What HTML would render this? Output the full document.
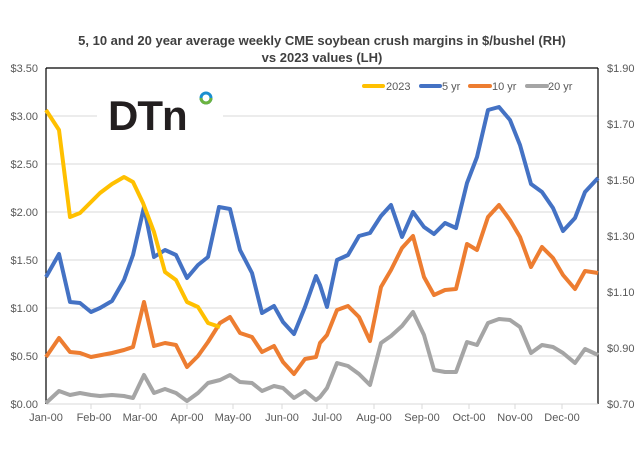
<!DOCTYPE html>
<html><head><meta charset="utf-8"><style>
body{margin:0;background:#fff;}
svg{display:block;font-family:"Liberation Sans",Arial,sans-serif;}
</style></head><body>
<svg width="640" height="460" viewBox="0 0 640 460">
<rect width="640" height="460" fill="#fff"/>
<text x="322" y="45" font-size="13" font-weight="bold" fill="#404040" text-anchor="middle">5, 10 and 20 year average weekly CME soybean crush margins in $/bushel (RH)</text>
<text x="322" y="62" font-size="13" font-weight="bold" fill="#404040" text-anchor="middle">vs 2023 values (LH)</text>
<g stroke="#d9d9d9" stroke-width="1">
<line x1="46" x2="598" y1="116" y2="116"/><line x1="46" x2="598" y1="164" y2="164"/>
<line x1="46" x2="598" y1="212" y2="212"/><line x1="46" x2="598" y1="260" y2="260"/>
<line x1="46" x2="598" y1="308" y2="308"/><line x1="46" x2="598" y1="356" y2="356"/>
</g>
<g stroke="#000" stroke-width="1.2" fill="none">
<line x1="46" y1="68" x2="598" y2="68"/><line x1="46" y1="68" x2="46" y2="404"/><line x1="598" y1="68" x2="598" y2="404"/>
</g>
<line x1="46" y1="404" x2="598" y2="404" stroke="#d9d9d9"/>
<g stroke="#d9d9d9"><line x1="91" x2="91" y1="404" y2="409"/><line x1="140" x2="140" y1="404" y2="409"/><line x1="187" x2="187" y1="404" y2="409"/><line x1="233" x2="233" y1="404" y2="409"/><line x1="282" x2="282" y1="404" y2="409"/><line x1="327" x2="327" y1="404" y2="409"/><line x1="374" x2="374" y1="404" y2="409"/><line x1="422" x2="422" y1="404" y2="409"/><line x1="469" x2="469" y1="404" y2="409"/><line x1="515" x2="515" y1="404" y2="409"/><line x1="562" x2="562" y1="404" y2="409"/></g>
<g font-size="11" fill="#595959" text-anchor="end">
<text x="38" y="72">$3.50</text><text x="38" y="120">$3.00</text><text x="38" y="168">$2.50</text><text x="38" y="216">$2.00</text><text x="38" y="264">$1.50</text><text x="38" y="312">$1.00</text><text x="38" y="360">$0.50</text><text x="38" y="408">$0.00</text>
</g>
<g font-size="11" fill="#595959">
<text x="607" y="72">$1.90</text><text x="607" y="128">$1.70</text><text x="607" y="184">$1.50</text><text x="607" y="240">$1.30</text><text x="607" y="296">$1.10</text><text x="607" y="352">$0.90</text><text x="607" y="408">$0.70</text>
</g>
<g font-size="11" fill="#595959" text-anchor="middle">
<text x="46" y="421">Jan-00</text><text x="94" y="421">Feb-00</text><text x="140" y="421">Mar-00</text><text x="187" y="421">Apr-00</text><text x="233" y="421">May-00</text><text x="282" y="421">Jun-00</text><text x="327" y="421">Jul-00</text><text x="374" y="421">Aug-00</text><text x="422" y="421">Sep-00</text><text x="469" y="421">Oct-00</text><text x="515" y="421">Nov-00</text><text x="562" y="421">Dec-00</text>
</g>
<rect x="97" y="88" width="126" height="45" fill="#fff"/>
<text x="108" y="130" font-size="42" font-weight="bold" fill="#231f20" letter-spacing="-1">DTn</text>
<circle cx="206" cy="98" r="5" fill="none" stroke="#1a8fd0" stroke-width="3"/>
<path d="M201,98 A5,5 0 0 0 211,98" fill="none" stroke="#6cb33f" stroke-width="3"/>
<g fill="none" stroke-width="4" stroke-linejoin="round">
<polyline stroke="#A5A5A5" points="46,403 59,391 70,395 80,393 91,395 100,396 112,395 124,396 133,398 144,375 154,393 165,389 176,393 187,401 198,393 208,383 220,380 230,375 240,382 252,383 262,391 274,386 283,388 294,398 305,391 316,400 320,397 327,388 337,363 348,366 359,374 370,385 381,343 391,336 402,326 413,312 424,335 434,370 445,372 456,372 467,342 477,345 488,323 499,319 510,320 520,327 531,353 542,345 553,347 563,353 575,363 585,349 598,355"/>
<polyline stroke="#ED7D31" points="46,357 59,338 70,352 80,353 91,357 112,353 124,350 133,347 144,302 154,346 165,343 176,345 187,367 198,356 208,342 220,323 230,317 240,333 252,337 262,352 274,346 283,362 294,374 305,359 316,357 320,343 327,335 337,310 348,306 359,317 370,341 381,287 391,270 402,248 413,236 424,277 434,295 445,290 456,289 467,244 477,250 488,217 499,205 510,220 520,237 531,267 542,247 553,258 563,275 575,289 585,271 598,273"/>
<polyline stroke="#4472C4" points="46,277 59,254 70,302 80,303 91,312 100,308 112,301 124,280 133,255 144,207 154,257 165,250 176,255 187,278 198,265 208,257 219,207 230,209 240,250 252,273 262,313 274,306 283,322 294,334 305,307 316,276 320,285 327,307 337,260 348,255 359,236 370,233 381,216 391,205 402,237 413,212 424,227 434,234 445,223 456,228 467,183 477,157 488,110 499,107 510,120 520,145 531,184 542,192 553,208 563,231 575,218 585,192 598,178"/>
<polyline stroke="#FFC000" points="46,110 59,130 70,217 80,213 100,193 112,184 124,177 133,182 143,203 154,232 165,272 176,280 187,302 198,307 208,323 220,327"/>
</g>
<g stroke-width="4" stroke-linecap="round">
<line x1="364" y1="86" x2="383" y2="86" stroke="#FFC000"/>
<line x1="421" y1="86" x2="440" y2="86" stroke="#4472C4"/>
<line x1="470" y1="86" x2="490" y2="86" stroke="#ED7D31"/>
<line x1="527" y1="86" x2="547" y2="86" stroke="#A5A5A5"/>
</g>
<g font-size="11" fill="#595959">
<text x="386" y="90">2023</text><text x="442" y="90">5 yr</text><text x="492" y="90">10 yr</text><text x="548" y="90">20 yr</text>
</g>
</svg>
</body></html>
